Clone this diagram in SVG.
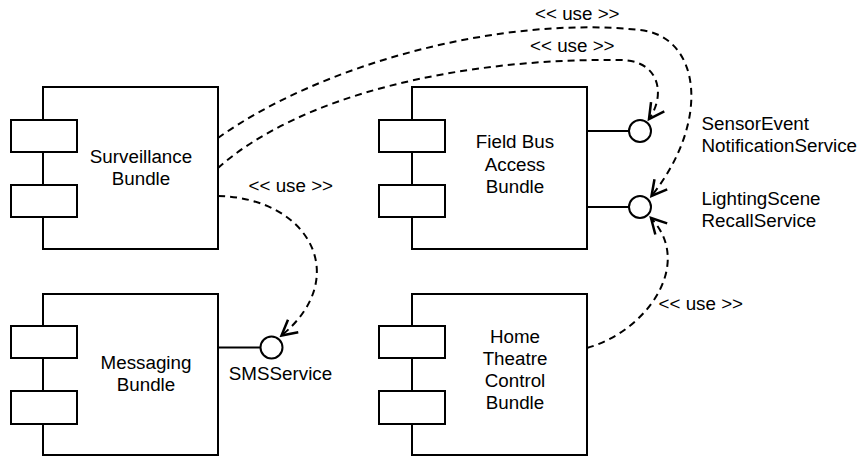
<svg xmlns="http://www.w3.org/2000/svg" width="861" height="456" viewBox="0 0 861 456">
  <style>
    .box { fill: #fff; stroke: #000; stroke-width: 2; }
    .port { fill: #fff; stroke: #000; stroke-width: 2; }
    .iface { fill: #fff; stroke: #000; stroke-width: 2; }
    .stem { stroke: #000; stroke-width: 2; fill: none; }
    .dep { fill: none; stroke: #000; stroke-width: 2; stroke-dasharray: 7 5; marker-end: url(#open); }
    text { font-family: "Liberation Sans", Arial, sans-serif; font-size: 18.8px; fill: #000; }
    .c { text-anchor: middle; }
  </style>
  <defs>
    <marker id="open" markerUnits="userSpaceOnUse" markerWidth="20" markerHeight="20" viewBox="-14 -8 16 16" refX="0" refY="0" orient="auto">
      <path d="M-12,-6.5 L0,0 L-12,6.5" fill="none" stroke="#000" stroke-width="2"/>
    </marker>
  </defs>

  <!-- component: Surveillance Bundle -->
  <g id="surveillance">
    <rect class="box" x="43" y="87" width="175" height="162"/>
    <rect class="port" x="11" y="120" width="66" height="32"/>
    <rect class="port" x="11" y="185" width="66" height="32"/>
    <text class="c" x="141" y="163">Surveillance</text>
    <text class="c" x="141" y="185">Bundle</text>
  </g>

  <!-- component: Field Bus Access Bundle with two provided interfaces -->
  <g id="fieldbus">
    <rect class="box" x="412" y="87" width="175" height="162"/>
    <rect class="port" x="379" y="120" width="66" height="32"/>
    <rect class="port" x="379" y="185" width="66" height="32"/>
    <text class="c" x="515" y="148">Field Bus</text>
    <text class="c" x="515" y="170.5">Access</text>
    <text class="c" x="515" y="193">Bundle</text>
  </g>
  <g id="sensorEventNotificationService">
    <line class="stem" x1="587" y1="131" x2="629" y2="131"/>
    <circle class="iface" cx="640" cy="131" r="11"/>
    <text x="701.5" y="130">SensorEvent</text>
    <text x="701.5" y="151.5">NotificationService</text>
  </g>
  <g id="lightingSceneRecallService">
    <line class="stem" x1="587" y1="207" x2="629" y2="207"/>
    <circle class="iface" cx="640" cy="207" r="11"/>
    <text x="701.5" y="205">LightingScene</text>
    <text x="701.5" y="226.5">RecallService</text>
  </g>

  <!-- component: Messaging Bundle with SMSService -->
  <g id="messaging">
    <rect class="box" x="43" y="294" width="175" height="161"/>
    <rect class="port" x="11" y="326" width="66" height="32"/>
    <rect class="port" x="11" y="391" width="66" height="33"/>
    <text class="c" x="146" y="369">Messaging</text>
    <text class="c" x="146" y="391">Bundle</text>
  </g>
  <g id="smsService">
    <line class="stem" x1="218" y1="347.5" x2="260.5" y2="347.5"/>
    <circle class="iface" cx="271.5" cy="347.5" r="11"/>
    <text class="c" x="280.5" y="380">SMSService</text>
  </g>

  <!-- component: Home Theatre Control Bundle -->
  <g id="hometheatre">
    <rect class="box" x="412" y="294" width="175" height="161"/>
    <rect class="port" x="379" y="326" width="66" height="32"/>
    <rect class="port" x="379" y="391" width="66" height="33"/>
    <text class="c" x="515" y="343">Home</text>
    <text class="c" x="515" y="365">Theatre</text>
    <text class="c" x="515" y="387">Control</text>
    <text class="c" x="515" y="409">Bundle</text>
  </g>

  <!-- usage dependencies -->
  <g id="connectors">
    <path class="dep" d="M218,138 C320,65 500,15 640,30 C700,36 712,120 651.5,196"/>
    <text x="535" y="20">&lt;&lt; use &gt;&gt;</text>

    <path class="dep" d="M218,168 C300,95 460,58 620,60 C660,60 666,95 649,119"/>
    <text x="530" y="52">&lt;&lt; use &gt;&gt;</text>

    <path class="dep" d="M218,196 C310,198 352,278 281.5,335.5"/>
    <text x="248.5" y="191.5">&lt;&lt; use &gt;&gt;</text>

    <path class="dep" d="M587,348 C645,332 695,265 651,218"/>
    <text x="658.5" y="310">&lt;&lt; use &gt;&gt;</text>
  </g>
</svg>
